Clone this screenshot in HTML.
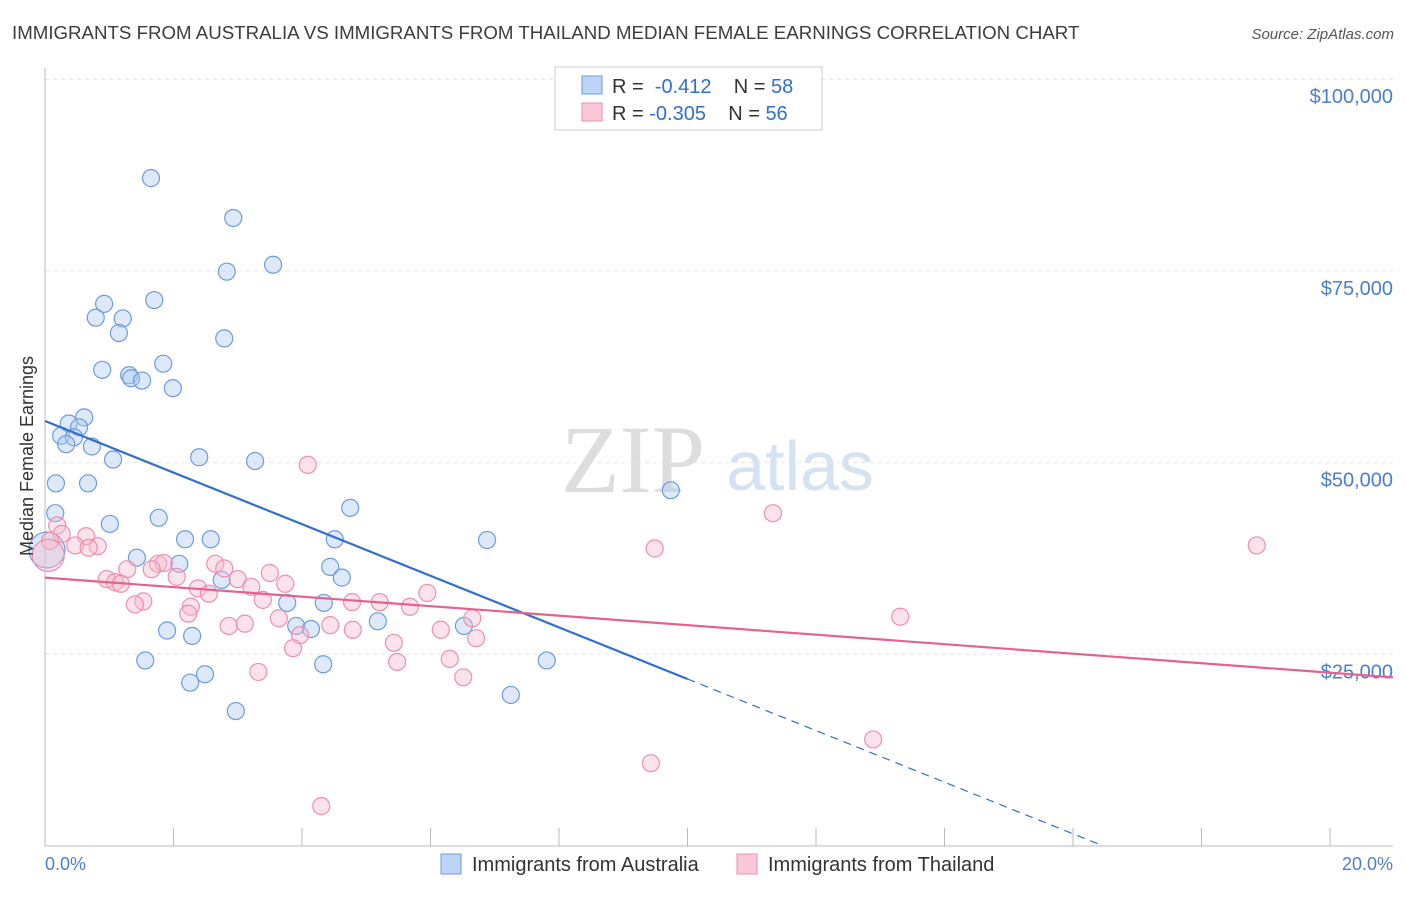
<!DOCTYPE html>
<html><head><meta charset="utf-8"><style>
body{margin:0;background:#fff;font-family:"Liberation Sans",sans-serif}
</style></head><body>
<svg id="c" width="1406" height="892" xmlns="http://www.w3.org/2000/svg">
<text x="12" y="39" font-size="18.7" fill="#3c3c3c">IMMIGRANTS FROM AUSTRALIA VS IMMIGRANTS FROM THAILAND MEDIAN FEMALE EARNINGS CORRELATION CHART</text>
<text x="1394" y="39" font-size="15" fill="#555" text-anchor="end" font-style="italic">Source: ZipAtlas.com</text>
<text x="633" y="492" font-size="96" fill="#ddd" font-family="Liberation Serif,serif" text-anchor="middle">ZIP</text>
<text x="800" y="490" font-size="70" fill="#d4e2f4" text-anchor="middle">atlas</text>
<g id="grid"></g><g id="pts"></g><g id="lines"></g>
<text x="33" y="456" font-size="18" fill="#333" text-anchor="middle" transform="rotate(-90 33 456)">Median Female Earnings</text>
<text x="45" y="870" font-size="18" fill="#4a7fd0">0.0%</text>
<text x="1393" y="870" font-size="18" fill="#4a7fd0" text-anchor="end">20.0%</text>
<g>
<rect x="555" y="67" width="267" height="63" fill="#fff" stroke="#ccc"/>
<rect x="582" y="76" width="20" height="18" fill="#bcd4f5" stroke="#6c9be0"/>
<rect x="582" y="103" width="20" height="18" fill="#fac8d6" stroke="#ee8fab"/>
<text x="612" y="93" font-size="20" fill="#333">R = <tspan fill="#2f6fd0">&#160;-0.412</tspan>&#160;&#160;&#160; N = <tspan fill="#2f6fd0">58</tspan></text>
<text x="612" y="120" font-size="20" fill="#333">R = <tspan fill="#2f6fd0">-0.305</tspan>&#160;&#160;&#160; N = <tspan fill="#2f6fd0">56</tspan></text>
</g>
<g>
<rect x="441" y="854" width="20" height="20" fill="#bcd4f5" stroke="#6c9be0"/>
<text x="472" y="871" font-size="20" fill="#333">Immigrants from Australia</text>
<rect x="737" y="854" width="20" height="20" fill="#fac8d6" stroke="#ee8fab"/>
<text x="768" y="871" font-size="20" fill="#333">Immigrants from Thailand</text>
</g>
</svg>
<script>
const yTicks=[25000,50000,75000,100000];
const yTickLabels=["$25,000","$50,000","$75,000","$100,000"];
const blueX=[1.65,2.93,3.55,2.83,1.70,0.92,0.79,1.21,1.15,2.79,1.84,0.89,1.31,1.34,1.51,1.99,0.61,0.37,0.53,0.25,0.45,0.33,0.73,2.40,3.27,1.06,0.67,0.17,9.74,4.75,0.16,1.77,1.01,2.18,2.58,4.51,6.88,1.43,2.09,4.44,4.62,2.75,3.77,4.34,5.18,1.90,3.91,4.14,6.52,2.29,1.56,4.33,7.81,2.49,2.26,7.25,2.97,0.03];
const blueY=[87100,81900,75800,74900,71200,70700,68900,68800,66900,66200,62900,62100,61400,61000,60700,59700,55900,55100,54600,53500,53300,52400,52100,50700,50200,50400,47300,47300,46400,44100,43400,42800,42000,40000,40000,40000,39900,37600,36800,36400,35000,34700,31700,31700,29300,28100,28700,28300,28700,27400,24200,23700,24200,22400,21300,19700,17600,38600];
const pinkX=[4.09,11.33,18.86,9.49,0.19,0.26,0.64,0.82,0.47,0.68,0.08,1.28,0.96,1.09,1.18,1.76,1.85,1.66,2.05,2.65,2.79,3.00,3.50,3.74,2.38,2.55,3.21,3.39,1.53,1.40,2.27,2.23,4.78,5.21,5.68,5.95,6.65,2.86,3.11,3.64,4.44,4.79,3.97,3.86,5.43,6.16,6.71,13.31,6.30,5.48,3.32,6.51,12.89,9.43,4.30,0.05];
const pinkY=[49700,43400,39200,38800,41800,40700,40400,39100,39200,38900,39800,36100,34800,34400,34200,36800,36900,36100,35100,36800,36200,34800,35600,34200,33600,32900,33800,32100,31900,31500,31200,30300,31800,31800,31200,33000,29700,28700,29000,29700,28800,28200,27500,25800,26500,28200,27100,29900,24400,24000,22700,22000,13900,10800,5200,37900];
const X0=45,XW=64.25,Y0=846,YS=191.7/25000;
const xs=v=>X0+v*XW, ys=v=>Y0-v*YS;
const NS="http://www.w3.org/2000/svg";
function mk(p,t,a){const e=document.createElementNS(NS,t);for(const k in a)e.setAttribute(k,a[k]);p.appendChild(e);return e;}
const grid=document.getElementById('grid');
yTicks.forEach((t,i)=>{
 const l=mk(grid,'line',{x1:45,x2:1393,y1:ys(t),y2:ys(t),stroke:'#e4e4e4','stroke-dasharray':'4,4'});
 
 
 const tx=mk(grid,'text',{x:1393,y:ys(t)+24,'font-size':20,fill:'#4a7fd0','text-anchor':'end'});
 tx.textContent=yTickLabels[i];
 
 
});
const ax=mk(grid,'line',{x1:45,x2:1393,y1:846,y2:846,stroke:'#bbb'});


const ay=mk(grid,'line',{x1:45,x2:45,y1:68,y2:846,stroke:'#bbb'});


for(let i=0;i<=10;i++){const tk=mk(grid,'line',{x1:xs(i*2),x2:xs(i*2),y1:828,y2:846,stroke:'#bbb'});
 
 }
const pts=document.getElementById('pts');
blueX.forEach((v,i)=>{const r=i==blueX.length-1?18:8.5;
 const c=mk(pts,'circle',{cx:xs(v),cy:ys(blueY[i]),r:r,fill:'rgba(170,200,240,0.4)',stroke:'#6c9be0','stroke-width':1.2});
 
 });
pinkX.forEach((v,i)=>{const r=i==pinkX.length-1?16:8.5;
 const c=mk(pts,'circle',{cx:xs(v),cy:ys(pinkY[i]),r:r,fill:'rgba(248,185,205,0.4)',stroke:'#ee8fab','stroke-width':1.2});
 
 });
const lines=document.getElementById('lines');
const bA=55430,bB=-3365,pA=35000,pB=-620;
let l=mk(lines,'line',{x1:xs(0),y1:ys(bA),x2:xs(10),y2:ys(bA+bB*10),stroke:'#2f6fd0','stroke-width':2.2});


l=mk(lines,'line',{x1:xs(10),y1:ys(bA+bB*10),x2:xs(16.47),y2:ys(bA+bB*16.47),stroke:'#2f6fd0','stroke-width':1.2,'stroke-dasharray':'8,6'});


l=mk(lines,'line',{x1:xs(0),y1:ys(pA),x2:xs(20.98),y2:ys(pA+pB*20.98),stroke:'#e4628c','stroke-width':2.2});


</script>
</body></html>
